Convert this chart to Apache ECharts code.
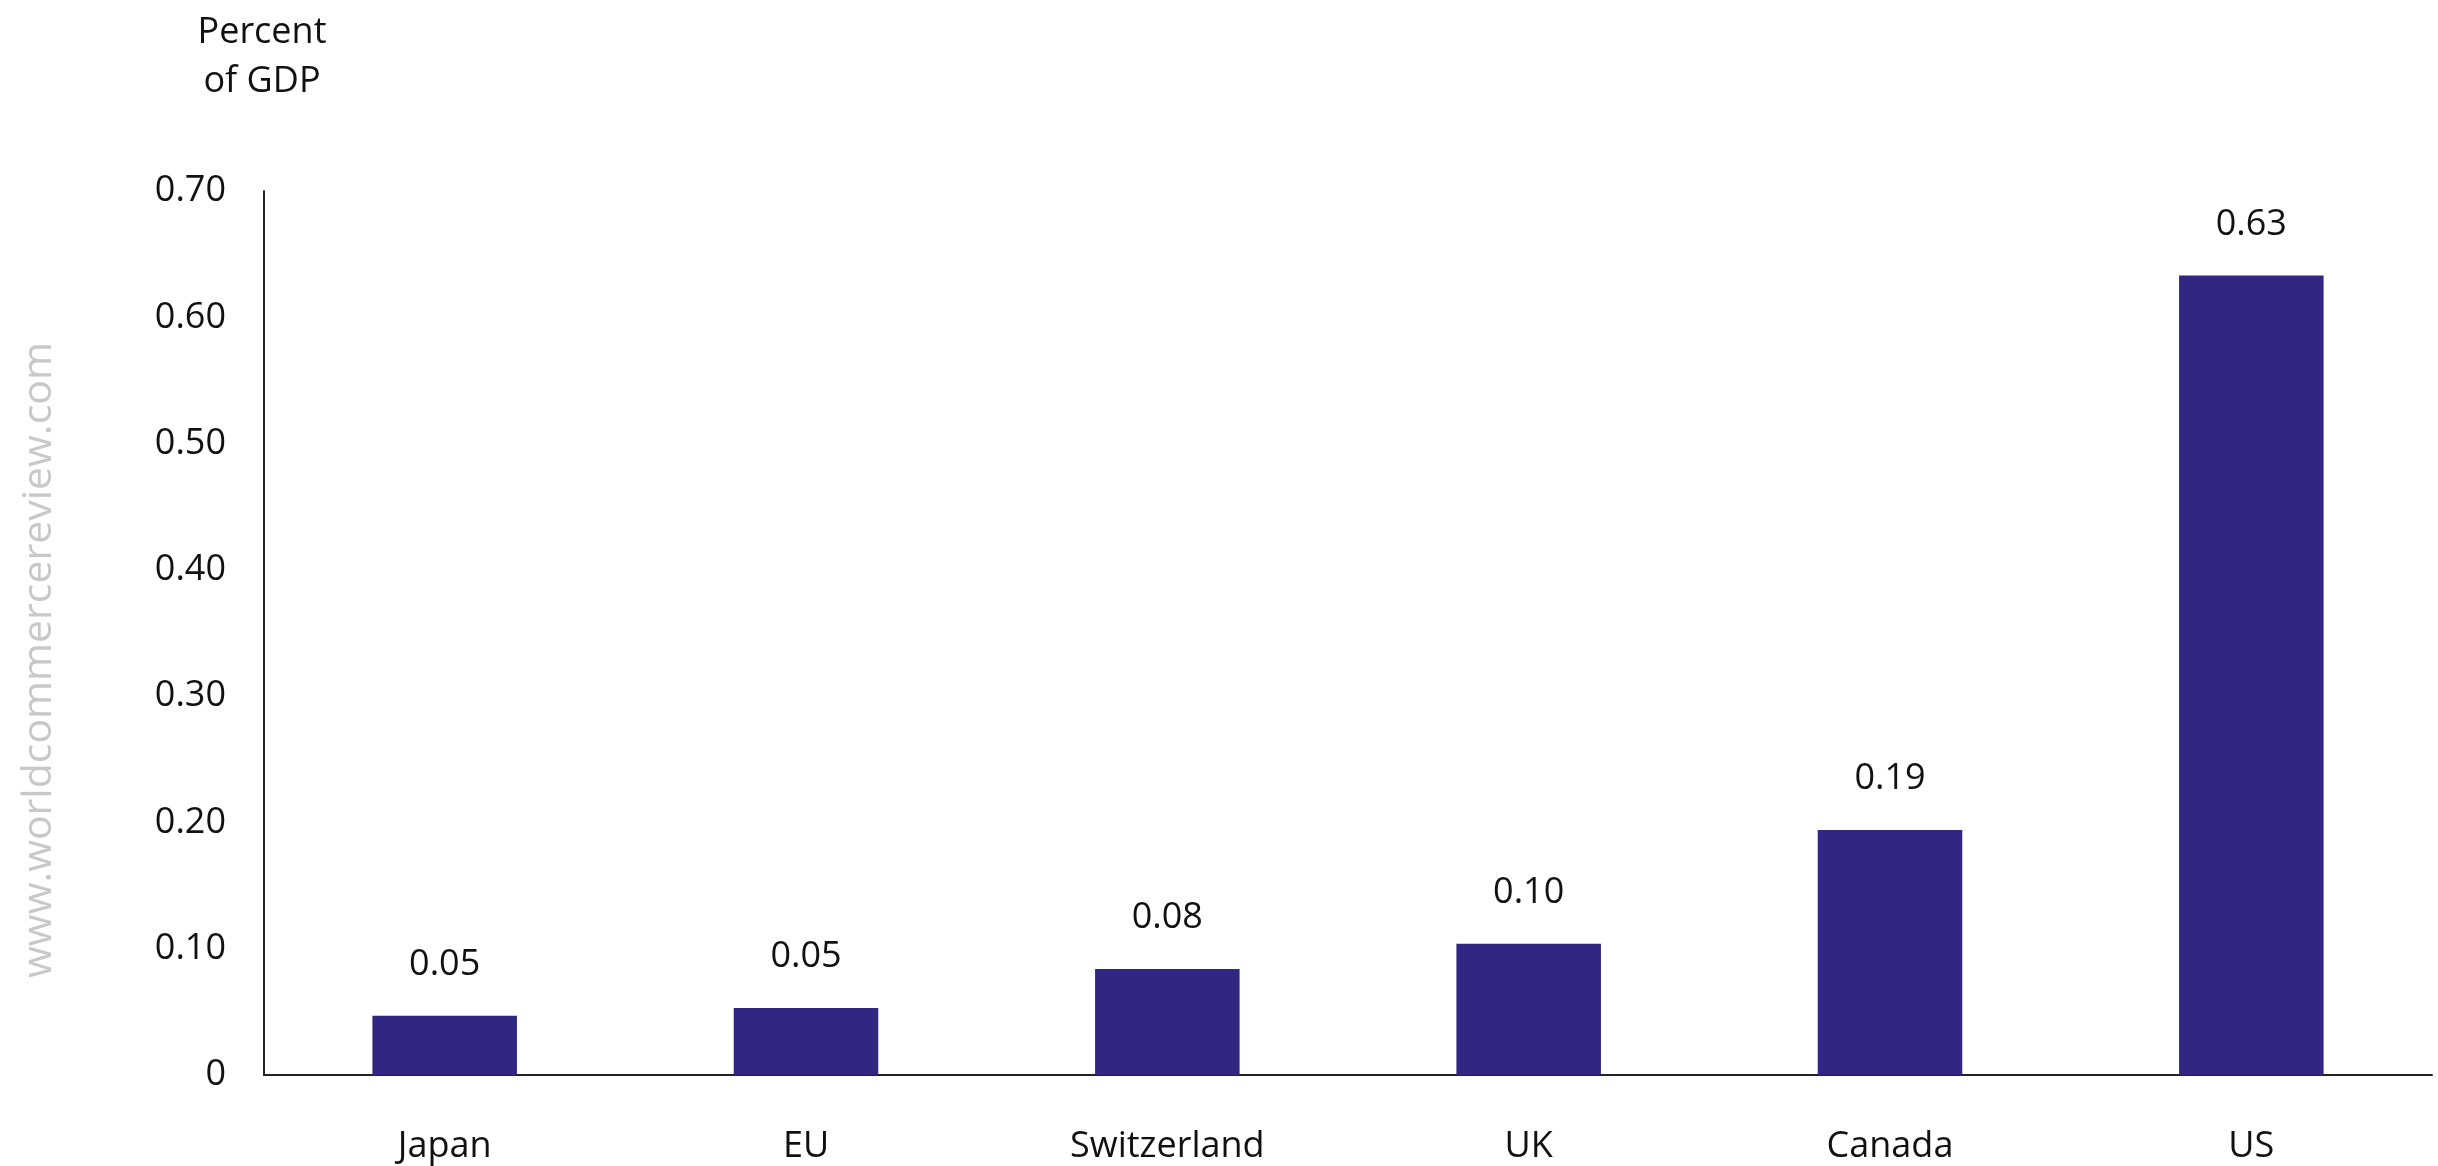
<!DOCTYPE html>
<html>
<head>
<meta charset="utf-8">
<title>Percent of GDP</title>
<script src="https://cdn.jsdelivr.net/npm/echarts@6/dist/echarts.min.js"></script>
<style>
  html, body { margin: 0; padding: 0; background: #ffffff; }
  #chart { width: 2438px; height: 1166px; }
</style>
</head>
<body>
<div id="chart"></div>
<script>
// Country categories along the x axis
const countries = ['Japan', 'EU', 'Switzerland', 'UK', 'Canada', 'US'];
// Values, percent of GDP
const shares = [0.047, 0.053, 0.084, 0.104, 0.194, 0.633];
// Value axis range and step
const yMin = 0;
const yMax = 0.7;
const yStep = 0.1;

const FONT = '"Open Sans", "Noto Sans", sans-serif';
const INK = '#111111';
const BAR = '#312782';

const chart = echarts.init(document.getElementById('chart'), null, { renderer: 'canvas' });

chart.setOption({
  animation: false,
  backgroundColor: '#ffffff',
  grid: { left: 264, right: 6, top: 191, bottom: 91, containLabel: false },
  xAxis: {
    type: 'category',
    data: countries,
    axisLine: { show: true, lineStyle: { color: '#222222', width: 2 } },
    axisTick: { show: false },
    axisLabel: { color: INK, fontFamily: FONT, fontSize: 36, margin: 54 },
    splitLine: { show: false }
  },
  yAxis: {
    type: 'value',
    min: yMin,
    max: yMax,
    interval: yStep,
    axisLine: { show: true, lineStyle: { color: '#222222', width: 2 } },
    axisTick: { show: false },
    splitLine: { show: false },
    axisLabel: {
      color: INK,
      fontFamily: FONT,
      fontSize: 36,
      margin: 38,
      formatter: v => (v === 0 ? '0' : v.toFixed(2))
    }
  },
  series: [{
    type: 'bar',
    data: shares,
    barWidth: '40%',
    itemStyle: { color: BAR },
    label: {
      show: true,
      position: 'top',
      distance: 33,
      color: INK,
      fontFamily: FONT,
      fontSize: 36,
      formatter: p => p.value.toFixed(2)
    }
  }],
  graphic: [
    {
      // Unit caption, centred over the value axis
      type: 'text',
      x: 262,
      y: 8,
      style: {
        text: 'Percent\nof GDP',
        fill: INK,
        font: '36px ' + FONT,
        lineHeight: 49,
        align: 'center',
        verticalAlign: 'top'
      }
    },
    {
      type: 'text',
      x: 39,
      y: 660,
      rotation: Math.PI / 2,
      style: {
        text: 'www.worldcommercereview.com',
        fill: '#c8c8c8',
        font: '41px ' + FONT,
        align: 'center',
        verticalAlign: 'middle'
      }
    }
  ]
});
</script>
</body>
</html>
